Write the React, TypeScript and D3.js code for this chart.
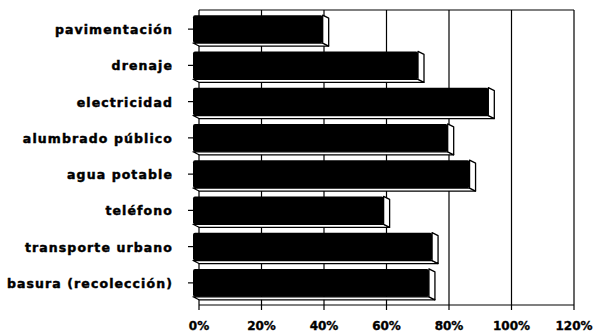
import React from "react";
import * as d3 from "d3";

const categories = [
  "pavimentación",
  "drenaje",
  "electricidad",
  "alumbrado público",
  "agua potable",
  "teléfono",
  "transporte urbano",
  "basura (recolección)",
];
const values = [41.5, 72, 94.5, 81.5, 88.5, 61, 76.5, 75.5];
const ticks = [0, 20, 40, 60, 80, 100, 120];

const W = 596;
const H = 335;
const DX = 6;
const DY = 3;

export default function App() {
  const xBack = d3.scaleLinear().domain([0, 120]).range([199, 574]);
  const xFront = d3.scaleLinear().domain([0, 120]).range([199 - DX, 574 - DX]);
  const y = d3.scaleBand<string>().domain(categories).range([11, 301]).paddingInner(0.23).paddingOuter(0.115);
  const top = 10;
  const bottom = 305;
  const font = "'DejaVu Sans', Verdana, sans-serif";

  return (
    <div style={{ position: "fixed", left: 0, top: 0 }}>
      <svg width={W} height={H} style={{ display: "block", background: "#fff" }}>
        {/* back wall */}
        <g stroke="#000" strokeWidth={1.2} fill="none">
          {ticks.map((t) => (
            <line key={"g" + t} x1={xBack(t)} x2={xBack(t)} y1={top} y2={bottom + 5} />
          ))}
          <line x1={xBack(0)} x2={xBack(120)} y1={top} y2={top} />
          <line x1={xBack(0)} x2={xBack(120)} y1={bottom} y2={bottom} />
        </g>
        {/* bars */}
        {categories.map((c, i) => {
          const y0 = y(c) as number;
          const y1 = y0 + y.bandwidth();
          const x0 = xFront(0);
          const x1 = xFront(values[i]);
          const cy = y0 + y.bandwidth() / 2;
          return (
            <g key={c}>
              <line x1={x0 - 5} x2={x0} y1={cy} y2={cy} stroke="#000" strokeWidth={1.2} />
              <polygon
                points={`${x0},${y1} ${x1},${y1} ${x1 + DX},${y1 + DY} ${x0 + DX},${y1 + DY}`}
                fill="#fff"
                stroke="#000"
                strokeWidth={1.2}
                strokeLinejoin="round"
              />
              <polygon
                points={`${x1},${y0} ${x1 + DX},${y0 + DY} ${x1 + DX},${y1 + DY} ${x1},${y1}`}
                fill="#fff"
                stroke="#000"
                strokeWidth={1.3}
                strokeLinejoin="round"
              />
              <rect x={x0} y={y0} width={x1 - x0} height={y1 - y0} rx={2} fill="#000" />
              <text
                x={173}
                y={cy + 1.5}
                textAnchor="end"
                dominantBaseline="middle"
                fontFamily={font}
                fontWeight="bold"
                fontSize={12.5}
                letterSpacing={1.1}
                fill="#000"
                stroke="#000"
                strokeWidth={0.45}
              >
                {c}
              </text>
            </g>
          );
        })}
        {/* x tick labels */}
        {ticks.map((t) => (
          <text
            key={"t" + t}
            x={xBack(t)}
            y={330}
            textAnchor="middle"
            fontFamily={font}
            fontWeight="bold"
            fontSize={12}
            fill="#000"
            stroke="#000"
            strokeWidth={0.35}
          >
            {t + "%"}
          </text>
        ))}
      </svg>
    </div>
  );
}
